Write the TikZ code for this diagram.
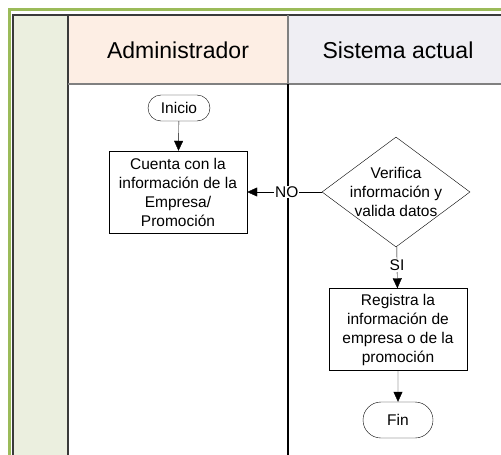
\documentclass[tikz,border=0pt]{standalone}
\usepackage{fontspec}
\setmainfont{Liberation Sans}
\usetikzlibrary{shapes,arrows.meta,positioning}
\definecolor{frame}{HTML}{9BBB59}
\definecolor{lane}{HTML}{EBEFDF}
\definecolor{peach}{HTML}{FDEEE4}
\definecolor{lavender}{HTML}{EFEEF3}
\definecolor{rule}{HTML}{3A3A3A}
\tikzset{
    -{Triangle[length=10pt,width=9pt]},x=1pt,y=-1pt,line width=1.1pt,
    body/.style = {font=\fontsize{15.5}{19}\selectfont, align=center},
    proc/.style = {rectangle, draw, body, minimum width=138pt, minimum height=82pt, inner sep=1pt},
    term/.style = {rounded rectangle, draw, body, minimum width=64pt, minimum height=26pt, inner sep=1pt},
    decide/.style = {diamond, draw, minimum width=148pt, minimum height=110pt, inner sep=0pt},
    lanehead/.style = {font=\fontsize{23}{27}\selectfont},
    el/.style = {body, fill=white, inner sep=1pt}
}
\begin{document}
\begin{tikzpicture}
    \useasboundingbox (0,0) rectangle (501,455);
    % pool and lanes
    \fill[white] (0,0) rectangle (501,455);
    \fill[lane] (13,15) rectangle (67,455);
    \fill[peach] (68,15) rectangle (288,84);
    \fill[lavender] (288,15) rectangle (501,84);
    \draw[-, frame, line width=3pt] (9,455) -- (9,9.5) -- (501,9.5);
    \draw[-, rule, line width=2pt] (12.5,455) -- (12.5,15) -- (501,15);
    \draw[-, rule, line width=2pt] (67.5,15) -- (67.5,455);
    \draw[-, gray, line width=2pt] (68,84) -- (501,84);
    \draw[-, gray, line width=1.5pt] (288,15) -- (288,84);
    \draw[-, black, line width=1.2pt] (288,84) -- (288,455);

    \node[lanehead] (admin) at (178,50) {Administrador};
    \node[lanehead] (sistema) at (398,50) {Sistema actual};

    % flow
    \node[term] (inicio) at (179,108) {Inicio};
    \node[proc] (cuenta) at (178,192) {Cuenta con la\\información de la\\Empresa/\\Promoción};
    \node[decide] (verifica) at (396,192) {};
    \node[body] at (verifica) {Verifica\\información y\\valida datos};
    \node[proc] (registra) at (398,329.5) {Registra la\\información de\\empresa o de la\\promoción};
    \node[term, minimum width=72pt, minimum height=36pt] (fin) at (398,420) {Fin};

    \path (inicio) edge (cuenta);
    \path (verifica) edge node[el, pos=0.47] {NO} (cuenta);
    \path (verifica) edge node[el, pos=0.45] {SI} (registra);
    \path (registra) edge (fin);
\end{tikzpicture}
\end{document}
